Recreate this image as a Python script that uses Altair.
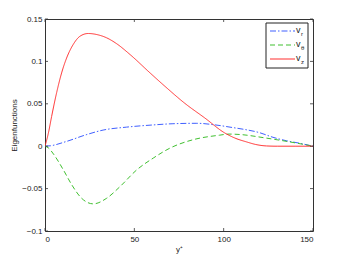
import altair as alt
import pandas as pd

# ---- data ----
vr_x = [0, 3, 12, 23, 32.5, 45.7, 60, 71.6, 85, 95.7, 105, 111, 120, 127.6, 135, 142.5, 150]
vr_y = [0, 0.0005, 0.0056, 0.0135, 0.019, 0.0225, 0.025, 0.0265, 0.027, 0.025, 0.022, 0.0200, 0.016, 0.0105, 0.0065, 0.0035, 0]

vt_x = [0, 1.9, 5, 10.3, 15, 20.5, 27, 34.5, 42, 51.3, 60.6, 70, 82.8, 97.7, 103, 109, 123.7, 138.8, 150]
vt_y = [0, -0.002, -0.01, -0.028, -0.0456, -0.0614, -0.068, -0.0614, -0.0476, -0.028, -0.014, -0.0022,
        0.0076, 0.013, 0.0143, 0.0138, 0.0096, 0.0044, 0]

vz_x = [0, 1.9, 3.7, 6.5, 9.3, 12.1, 15.8, 19.6, 24.2, 28.9, 34.5, 40, 47.6, 58.8, 67.2, 78.3, 89.5,
        100.7, 106.3, 112.9, 118, 124, 130, 140, 150]
vz_y = [0, 0.0155, 0.035, 0.063, 0.0864, 0.104, 0.12, 0.1297, 0.1329, 0.1317, 0.1278, 0.121, 0.1081,
        0.0864, 0.0705, 0.0505, 0.0332, 0.0155, 0.0096, 0.005, 0.002, 0.0003, 0, 0, 0]

series = ["v_r", "v_theta", "v_z"]
colors = ["#4060ff", "#40c030", "#ff3030"]
dashes = [[6, 2, 1.5, 2], [5, 3], [1, 0]]
leg_main = ["v", "v", "v"]
leg_sub = ["r", "θ", "z"]

x_ticks = [0, 50, 100, 150]
y_ticks = [-0.1, -0.05, 0, 0.05, 0.1, 0.15]

W, H = 268, 212
FONT = "Liberation Sans"

rows = []
for name, xs, ys in [("v_r", vr_x, vr_y), ("v_theta", vt_x, vt_y), ("v_z", vz_x, vz_y)]:
    for a, b in zip(xs, ys):
        rows.append({"s": name, "x": a, "y": b})
df = pd.DataFrame(rows)

xsc = alt.Scale(domain=[0, 150], nice=False)
ysc = alt.Scale(domain=[-0.1, 0.15], nice=False)
csc = alt.Scale(domain=series, range=colors)
dsc = alt.Scale(domain=series, range=dashes)

lines = alt.Chart(df).mark_line(strokeWidth=1, interpolate="monotone", clip=True).encode(
    x=alt.X("x:Q", scale=xsc,
            axis=alt.Axis(values=x_ticks, title="y⁺", ticks=False, domain=False, grid=False,
                          labelFontSize=8, titleFontSize=8, labelPadding=4, titlePadding=2,
                          titleFontWeight="normal", labelFont=FONT, titleFont=FONT,
                          labelColor="#222", titleColor="#222")),
    y=alt.Y("y:Q", scale=ysc,
            axis=alt.Axis(values=y_ticks, format=".2~f", title="Eigenfunctions", ticks=False, domain=False,
                          grid=False, labelFontSize=8, titleFontSize=8, labelPadding=3, titlePadding=3,
                          titleFontWeight="normal", labelFont=FONT, titleFont=FONT,
                          labelColor="#222", titleColor="#222", labelOverlap=False)),
    color=alt.Color("s:N", scale=csc, legend=None),
    strokeDash=alt.StrokeDash("s:N", scale=dsc, legend=None),
    order="x:Q",
)

xt = pd.DataFrame({"v": x_ticks})
yt = pd.DataFrame({"v": y_ticks})
tick_color = "#333"
xt_bot = alt.Chart(xt).mark_rule(strokeWidth=0.8).encode(
    x=alt.X("v:Q", scale=xsc), y=alt.value(H), y2=alt.value(H - 3), color=alt.value(tick_color))
xt_top = alt.Chart(xt).mark_rule(strokeWidth=0.8).encode(
    x=alt.X("v:Q", scale=xsc), y=alt.value(0), y2=alt.value(3), color=alt.value(tick_color))
yt_left = alt.Chart(yt).mark_rule(strokeWidth=0.8).encode(
    y=alt.Y("v:Q", scale=ysc), x=alt.value(0), x2=alt.value(3), color=alt.value(tick_color))
yt_right = alt.Chart(yt).mark_rule(strokeWidth=0.8).encode(
    y=alt.Y("v:Q", scale=ysc), x=alt.value(W), x2=alt.value(W - 3), color=alt.value(tick_color))

# legend (manual, to allow subscripts)
leg = pd.DataFrame({"s": series, "m": leg_main, "sub": leg_sub, "ly": [12 + 14 * i for i in range(3)]})
leg["ly2"] = leg["ly"] - 1
leg["ly3"] = leg["ly"] + 3
one = pd.DataFrame({"a": [0]})
box = alt.Chart(one).mark_rect(fill="white", stroke="#222", strokeWidth=1).encode(
    x=alt.value(221), x2=alt.value(263), y=alt.value(4), y2=alt.value(49))
leg_lines = alt.Chart(leg).mark_rule(strokeWidth=1.2).encode(
    x=alt.value(225), x2=alt.value(250), y=alt.Y("ly:Q", scale=None),
    color=alt.Color("s:N", scale=csc, legend=None),
    strokeDash=alt.StrokeDash("s:N", scale=dsc, legend=None))
leg_v = alt.Chart(leg).mark_text(align="left", baseline="middle", fontSize=9, font=FONT).encode(
    x=alt.value(251), y=alt.Y("ly2:Q", scale=None), text="m:N", color=alt.value("#222"))
leg_s = alt.Chart(leg).mark_text(align="left", baseline="middle", fontSize=6, font=FONT).encode(
    x=alt.value(256), y=alt.Y("ly3:Q", scale=None), text="sub:N", color=alt.value("#222"))

chart = alt.layer(lines, xt_bot, xt_top, yt_left, yt_right, box, leg_lines, leg_v, leg_s).properties(
    width=W, height=H,
    autosize=alt.AutoSizeParams(type="none"),
    padding={"left": 37, "top": 11, "right": 25, "bottom": 30},
).configure_view(stroke="#333", strokeWidth=1)

chart.save("out.html", embed_options={"renderer": "svg", "actions": False})
